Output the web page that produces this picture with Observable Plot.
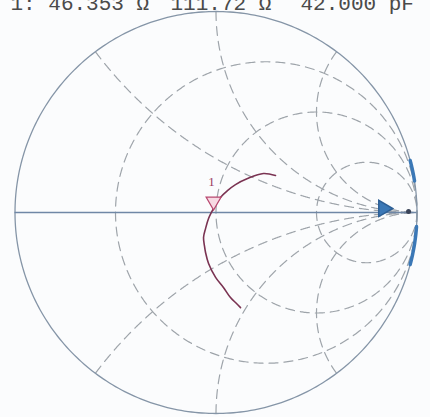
<!DOCTYPE html>
<html>
<head>
<meta charset="utf-8">
<script src="https://cdn.jsdelivr.net/npm/d3@7"></script>
<script src="https://cdn.jsdelivr.net/npm/@observablehq/plot@0.6"></script>
<style>
  html, body { margin: 0; padding: 0; background: #fbfcfd; }
  #chart svg { display: block; }
</style>
</head>
<body>
<div id="chart"></div>
<script>
// Smith chart grid: constant-resistance circles and constant-reactance arcs (normalized)
const resistanceCircles = [1 / 3, 1, 3];
const reactanceArcs = [0.5, 1, 2, -0.5, -1, -2];

// Measured reflection coefficient, real and imaginary parts
const traceRe = [0.296, 0.236, 0.157, 0.097, 0.057, 0.022, -0.012, -0.037, -0.052, -0.062,
                 -0.057, -0.052, -0.037, -0.002, 0.037, 0.072, 0.102, 0.122];
const traceIm = [0.184, 0.194, 0.169, 0.139, 0.109, 0.075, 0.020, -0.030, -0.080, -0.124,
                 -0.169, -0.199, -0.254, -0.323, -0.373, -0.423, -0.453, -0.473];

// Marker 1 sits on this sample of the trace
const markerIndex = 6;
const markerLabel = "1";

// Marker readout line: resistance, reactance, equivalent capacitance
const readout = ["1: 46.353 Ω", "111.72 Ω", "42.000 pF"];

// Second trace running along |Γ| = 1 (angles in degrees)
const edgeSegments = [[15, 9], [-4, -15]];
// Reference point markers on the real axis
const edgeMarkerRe = [0.833];
const edgeMarkerIm = [0.02];
const edgeDotRe = [0.958];
const edgeDotIm = [0.005];

// z -> Γ mapping
function gamma(a, b) {
  const d = (a + 1) * (a + 1) + b * b;
  return [(a * a + b * b - 1) / d, (2 * b) / d];
}

const N = 600;
const gridRows = [];
resistanceCircles.forEach((r, k) => {
  for (let i = 0; i <= N; i++) {
    const t = -Math.PI / 2 + 1e-4 + (Math.PI - 2e-4) * i / N;
    const [gx, gy] = gamma(r, Math.tan(t));
    gridRows.push({id: "r" + k, gx, gy});
  }
});
reactanceArcs.forEach((x, k) => {
  for (let i = 0; i <= N; i++) {
    const t = (Math.PI / 2 - 1e-4) * i / N;
    const [gx, gy] = gamma(Math.tan(t), x);
    gridRows.push({id: "x" + k, gx, gy});
  }
});

const rim = d3.range(0, 361, 1).map(a => ({gx: Math.cos(a * Math.PI / 180), gy: Math.sin(a * Math.PI / 180)}));

const edgeRows = [];
edgeSegments.forEach((seg, k) => {
  const [a0, a1] = seg;
  for (let i = 0; i <= 30; i++) {
    const a = (a0 + (a1 - a0) * i / 30) * Math.PI / 180;
    edgeRows.push({id: k, gx: Math.cos(a), gy: Math.sin(a)});
  }
});

const trace = traceRe.map((re, i) => ({gx: re, gy: traceIm[i]}));
const marker = [trace[markerIndex]];

// left offset of each readout field
const readoutOffsets = [10, 170, 300];

const chart = Plot.plot({
  width: 430,
  height: 417,
  margin: 0,
  style: {background: "#fbfcfd", overflow: "hidden"},
  x: {domain: [-1, 1], range: [14.5, 416.5], axis: null},
  y: {domain: [-1, 1], range: [413, 11], axis: null},
  marks: [
    // dashed grid
    Plot.line(gridRows, {x: "gx", y: "gy", z: "id", stroke: "#9ea4aa", strokeWidth: 1.2, strokeDasharray: "9,6"}),
    // outer circle and real axis
    Plot.line(rim, {x: "gx", y: "gy", stroke: "#8595a7", strokeWidth: 1.3}),
    Plot.ruleY([0], {x1: -1, x2: 1, stroke: "#6f87a6", strokeWidth: 1.5}),
    // trace along the rim
    Plot.line(edgeRows, {x: "gx", y: "gy", z: "id", stroke: "#3b78b6", strokeWidth: 3.5}),
    Plot.dot(edgeMarkerRe.map((re, i) => ({gx: re, gy: edgeMarkerIm[i]})),
      {x: "gx", y: "gy", symbol: "triangle", rotate: 90, r: 6, fill: "#3b78b6", stroke: "#2d5f95"}),
    Plot.dot(edgeDotRe.map((re, i) => ({gx: re, gy: edgeDotIm[i]})),
      {x: "gx", y: "gy", r: 2.5, fill: "#3a4458"}),
    // measured trace
    Plot.line(trace, {x: "gx", y: "gy", stroke: "#7a3352", strokeWidth: 1.6, curve: "catmull-rom"}),
    // marker 1
    Plot.dot(marker, {x: "gx", y: "gy", symbol: "triangle", rotate: 180, r: 5.5, dy: -7,
      fill: "#f7d9e3", stroke: "#b8476f", strokeWidth: 1.3}),
    Plot.text(marker, {x: "gx", y: "gy", text: () => markerLabel, dy: -27, dx: -2, fontSize: 13,
      fill: "#9a3d5f", fontFamily: "Liberation Serif"}),
    // readout fields
    ...readout.map((s, i) => Plot.text([s], {frameAnchor: "top-left", dx: readoutOffsets[i], dy: 9,
      lineAnchor: "bottom", textAnchor: "start", fontSize: 21, fontFamily: "Liberation Mono",
      fill: "#4a4a4a"}))
  ]
});

document.getElementById("chart").appendChild(chart);
</script>
</body>
</html>
